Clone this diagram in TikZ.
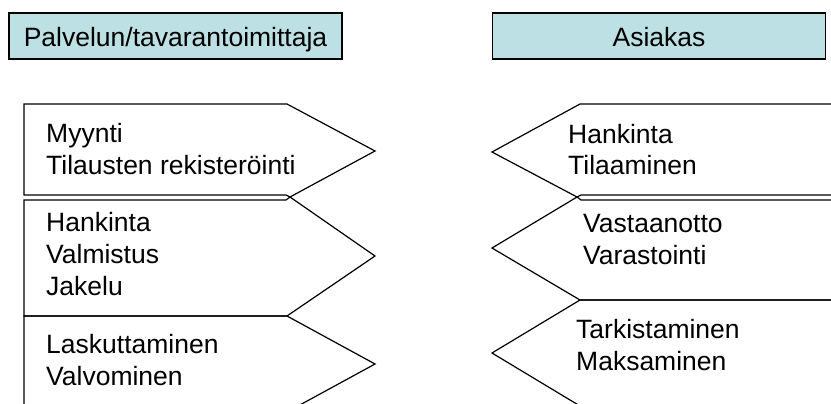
\documentclass[tikz,border=0pt]{standalone}
\usepackage{fontspec}
\setmainfont{Liberation Sans}

\definecolor{headfill}{RGB}{188,224,227}
\tikzset{
  headbox/.style={draw, line width=1.2pt, fill=headfill,
    minimum width=333pt, minimum height=46pt, inner sep=0pt,
    text height=22pt, text depth=0pt, font=\fontsize{26.5}{31.8}\selectfont},
  stagetext/.style={anchor=base west, align=left, inner sep=0pt,
    font=\fontsize{26.5}{31.8}\selectfont},
  stage/.style={draw, line width=1.2pt, line join=miter}
}

\begin{document}
\begin{tikzpicture}[x=1pt,y=-1pt]
  \useasboundingbox (0,0) rectangle (831,404);
  \clip (0,0) rectangle (831,404);

  % otsikot
  \node[headbox] (supplier) at (175.5,36) {Palvelun/tavarantoimittaja};
  \node[headbox] (customer) at (659,36) {Asiakas};

  % toimittajan vaiheet
  \draw[stage] (24,104) -- (287,104) -- (375,151) -- (290,197) -- (286,195) -- (24,195) -- cycle;
  \draw[stage] (24,200) -- (286,200) -- (290,197) -- (375,256) -- (287,316) -- (24,316) -- cycle;
  \draw[stage] (24,316) -- (287,316) -- (375,364) -- (287,412) -- (24,412) -- cycle;
  \node[stagetext] (sales) at (46,174) {Myynti\\Tilausten rekisteröinti};
  \node[stagetext] (production) at (46,295) {Hankinta\\Valmistus\\Jakelu};
  \node[stagetext] (billing) at (46,385) {Laskuttaminen\\Valvominen};

  % asiakkaan vaiheet
  \draw[stage] (840,104) -- (580,104) -- (492,152) -- (577,197) -- (581,195) -- (840,195) -- cycle;
  \draw[stage] (840,200) -- (581,200) -- (577,197) -- (492,248) -- (580,300) -- (840,300) -- cycle;
  \draw[stage] (840,300) -- (580,300) -- (492,353) -- (580,406) -- (840,406) -- cycle;
  \node[stagetext] (ordering) at (568,175) {Hankinta\\Tilaaminen};
  \node[stagetext] (receiving) at (583,264) {Vastaanotto\\Varastointi};
  \node[stagetext] (paying) at (576,370) {Tarkistaminen\\Maksaminen};
\end{tikzpicture}
\end{document}
